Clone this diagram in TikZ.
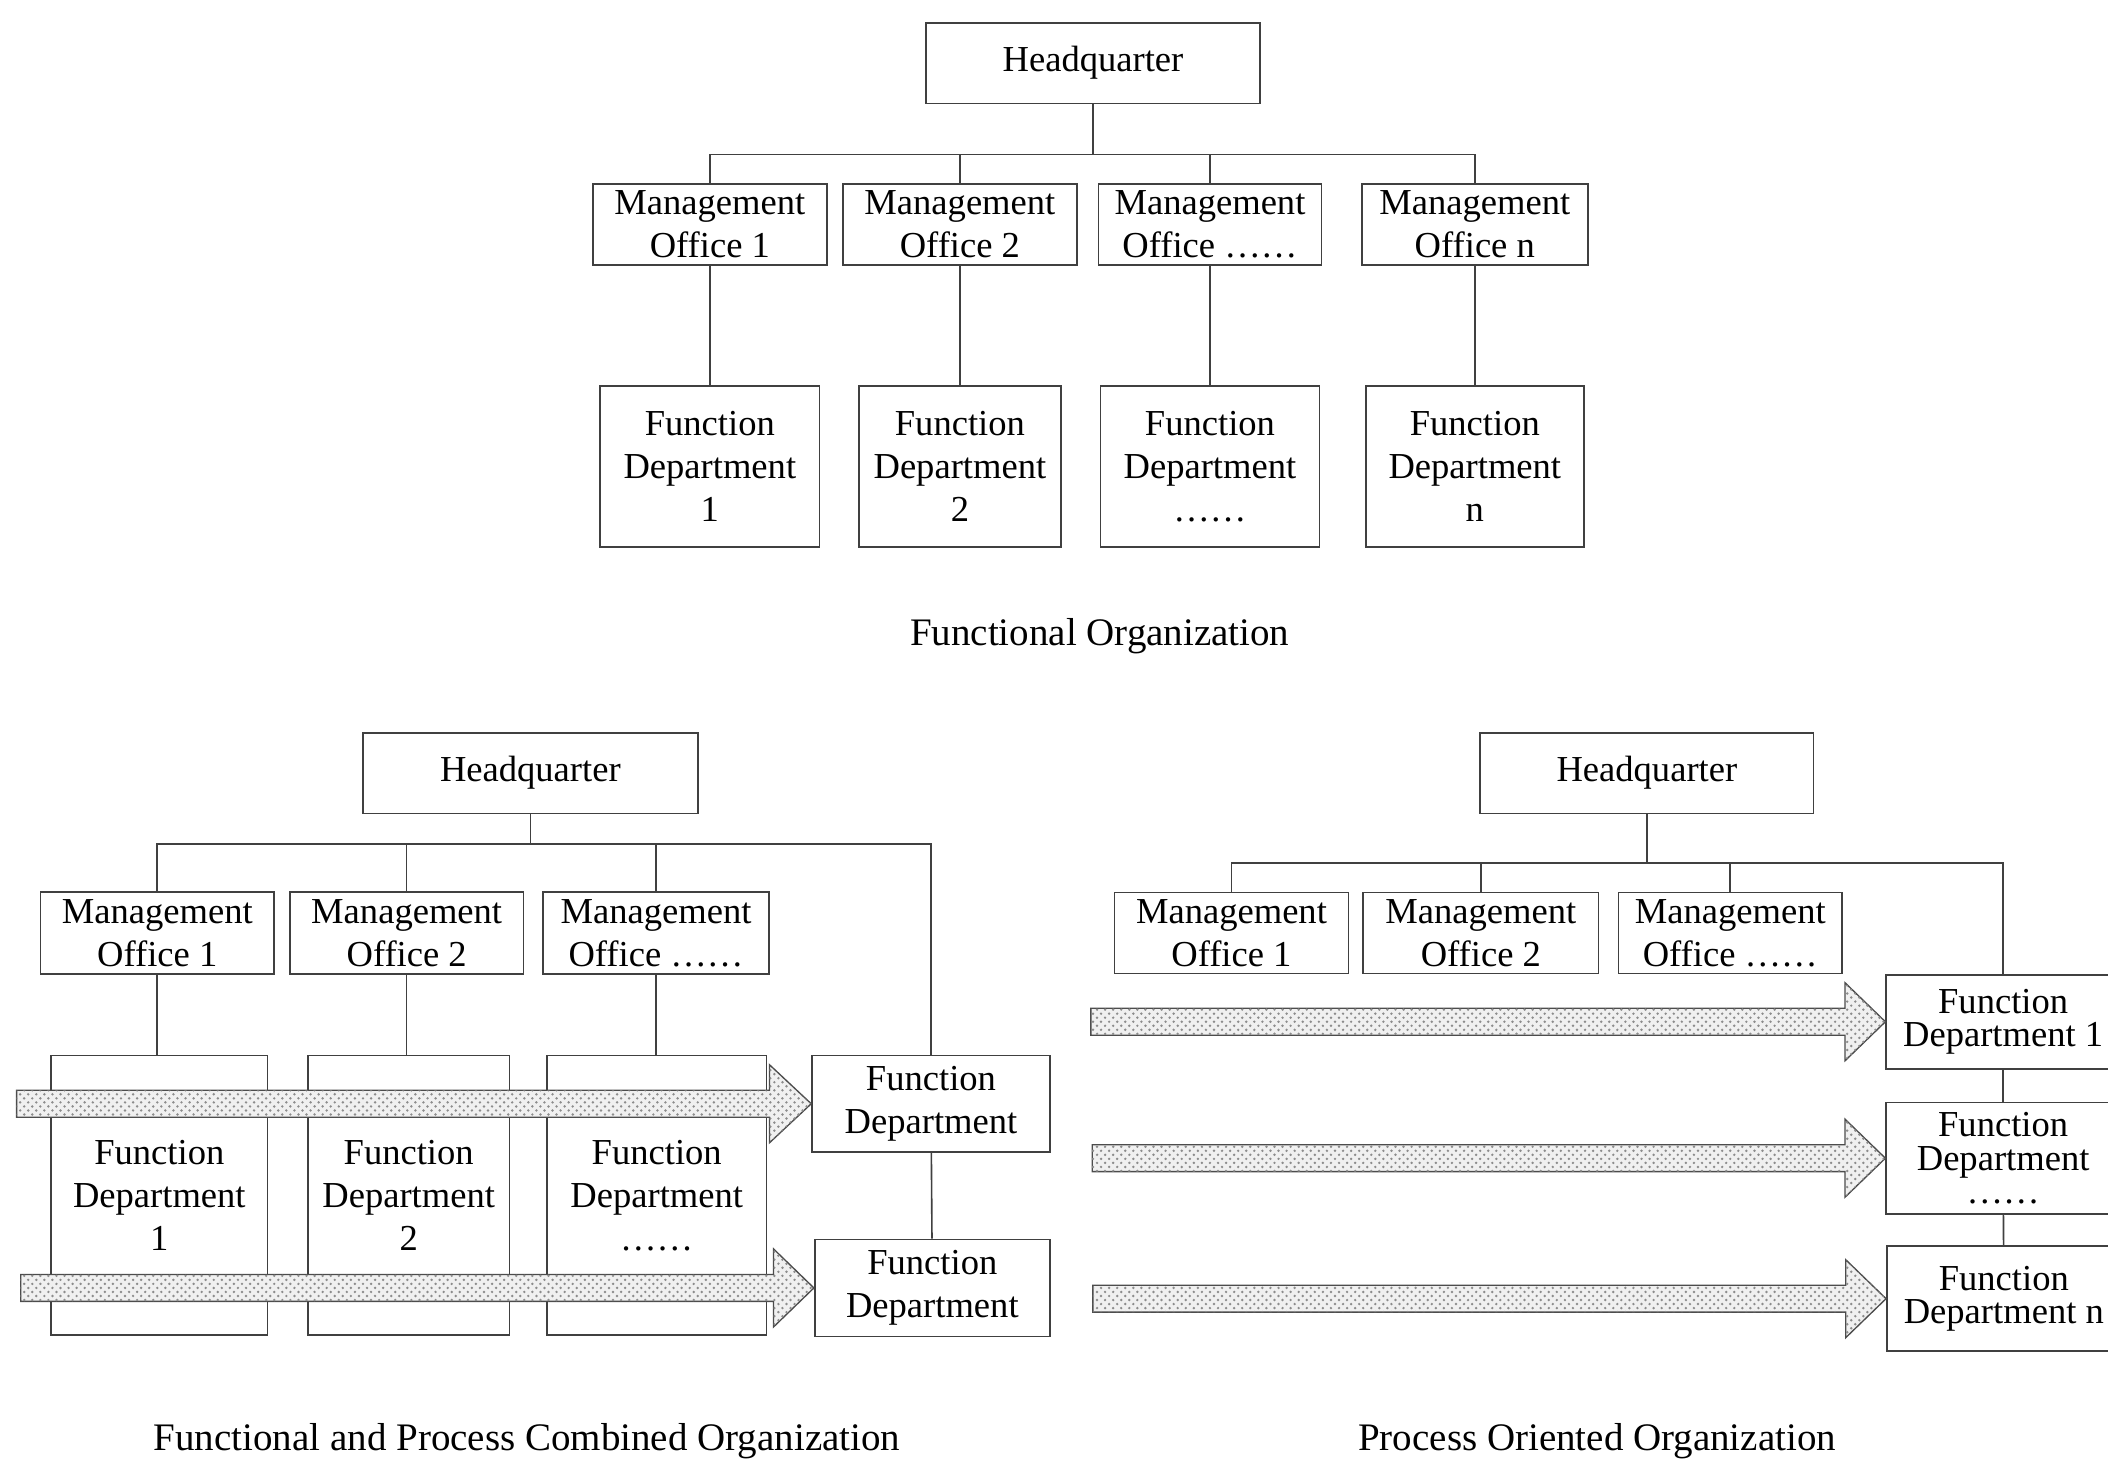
\documentclass[tikz,border=0pt]{standalone}
\usepackage{fontspec}
\setmainfont{Liberation Serif}
\usetikzlibrary{positioning,patterns}

\begin{document}
\begin{tikzpicture}[x=0.5pt,y=0.5pt]
                \tikzstyle{every node}+=[inner sep=0pt]
                \tikzstyle{unit}=[draw=black!75, line width=0.6pt, align=center, font=\fontsize{13.6}{16}\selectfont]
                \tikzstyle{tightunit}=[unit, font=\fontsize{13.6}{12.5}\selectfont]
                \tikzstyle{link}=[draw=black!75, line width=0.6pt]
                \tikzstyle{flow}=[draw=black!70, line width=0.5pt, fill=gray!12, postaction={pattern=crosshatch dots, pattern color=gray!90}]
                \tikzstyle{caption}=[font=\fontsize{14.5}{16}\selectfont]
                \useasboundingbox (0,0) rectangle (1568,-1087);
                % functional organization
                \node [unit, minimum width=124pt, minimum height=30pt] (hqA) at (813,-47) {Headquarter};
                \node [unit, minimum width=87pt, minimum height=30pt] (moA1) at (528,-167) {Management\\Office 1};
                \node [unit, minimum width=87pt, minimum height=30pt] (moA2) at (714,-167) {Management\\Office 2};
                \node [unit, minimum width=83pt, minimum height=30pt] (moA3) at (900,-167) {Management\\Office ……};
                \node [unit, minimum width=84pt, minimum height=30pt] (moA4) at (1097,-167) {Management\\Office n};
                \node [unit, minimum width=81.5pt, minimum height=60pt] (fdA1) at (528,-347) {Function\\Department\\1};
                \node [unit, minimum width=75pt, minimum height=60pt] (fdA2) at (714,-347) {Function\\Department\\2};
                \node [unit, minimum width=81.5pt, minimum height=60pt] (fdA3) at (900,-347) {Function\\Department\\……};
                \node [unit, minimum width=81pt, minimum height=60pt] (fdA4) at (1097,-347) {Function\\Department\\n};
                \coordinate (busA) at (813,-115);
                \draw [link] (hqA) -- (busA);
                \draw [link] (moA1.north) |- (busA) -| (moA4.north);
                \draw [link] (moA2) -- (moA2 |- busA);
                \draw [link] (moA3) -- (moA3 |- busA);
                \draw [link] (moA1) -- (fdA1);
                \draw [link] (moA2) -- (fdA2);
                \draw [link] (moA3) -- (fdA3);
                \draw [link] (moA4) -- (fdA4);
                \node [caption] (capA) at (818,-473) {Functional Organization};
                % functional and process combined organization
                \node [unit, minimum width=124.5pt, minimum height=30pt] (hqB) at (394.5,-575) {Headquarter};
                \node [unit, minimum width=87pt, minimum height=30.5pt] (moB1) at (117,-694) {Management\\Office 1};
                \node [unit, minimum width=87pt, minimum height=30.5pt] (moB2) at (302.5,-694) {Management\\Office 2};
                \node [unit, minimum width=84pt, minimum height=30.5pt] (moB3) at (488,-694) {Management\\Office ……};
                \node [unit, minimum width=80.5pt, minimum height=104pt] (fdB1) at (118.5,-889) {Function\\Department\\1};
                \node [unit, minimum width=75pt, minimum height=104pt] (fdB2) at (304,-889) {Function\\Department\\2};
                \node [unit, minimum width=81.5pt, minimum height=104pt] (fdB3) at (488.5,-889) {Function\\Department\\……};
                \node [unit, minimum width=88.5pt, minimum height=36pt] (fdB4) at (692.5,-821) {Function\\Department};
                \node [unit, minimum width=87.5pt, minimum height=36pt] (fdB5) at (693.5,-958) {Function\\Department};
                \coordinate (busB) at (394.5,-628);
                \draw [link] (hqB) -- (busB);
                \draw [link] (moB1.north) |- (busB) -| (fdB4.north);
                \draw [link] (moB2) -- (moB2 |- busB);
                \draw [link] (moB3) -- (moB3 |- busB);
                \draw [link] (moB1.south) -- (moB1.south |- fdB1.north);
                \draw [link] (moB2.south) -- (moB2.south |- fdB2.north);
                \draw [link] (moB3.south) -- (moB3.south |- fdB3.north);
                \draw [link] (fdB4) -- (fdB5);
                \draw [flow] (fdB4.west) -- ++(-31,29) -- ++(0,-19) -- ++(-560,0) -- ++(0,-20) -- ++(560,0) -- ++(0,-19) -- cycle;
                \draw [flow] (fdB5.west) -- ++(-30,29) -- ++(0,-19) -- ++(-560,0) -- ++(0,-20) -- ++(560,0) -- ++(0,-19) -- cycle;
                \node [caption] (capB) at (392,-1072) {Functional and Process Combined Organization};
                % process oriented organization
                \node [unit, minimum width=124pt, minimum height=30pt] (hqC) at (1225,-575) {Headquarter};
                \node [unit, minimum width=87pt, minimum height=30pt] (moC1) at (916,-694) {Management\\Office 1};
                \node [unit, minimum width=87.5pt, minimum height=30pt] (moC2) at (1101.5,-694) {Management\\Office 2};
                \node [unit, minimum width=83pt, minimum height=30pt] (moC3) at (1287,-694) {Management\\Office ……};
                \node [tightunit, minimum width=87pt, minimum height=35pt] (fdC1) at (1490,-760) {Function\\Department 1};
                \node [tightunit, minimum width=87pt, minimum height=41.5pt] (fdC2) at (1490,-861.5) {Function\\Department\\……};
                \node [tightunit, minimum width=87pt, minimum height=39pt] (fdC3) at (1490.5,-966) {Function\\Department n};
                \coordinate (busC) at (1225,-642);
                \draw [link] (hqC) -- (busC);
                \draw [link] (moC1.north) |- (busC) -| (fdC1.north);
                \draw [link] (moC2) -- (moC2 |- busC);
                \draw [link] (moC3) -- (moC3 |- busC);
                \draw [link] (fdC1) -- (fdC2);
                \draw [link] (fdC2) -- (fdC3);
                \draw [flow] (fdC1.west) -- ++(-30,29) -- ++(0,-19) -- ++(-561,0) -- ++(0,-20) -- ++(561,0) -- ++(0,-19) -- cycle;
                \draw [flow] (fdC2.west) -- ++(-30,29) -- ++(0,-19) -- ++(-560,0) -- ++(0,-20) -- ++(560,0) -- ++(0,-19) -- cycle;
                \draw [flow] (fdC3.west) -- ++(-30,29) -- ++(0,-19) -- ++(-560,0) -- ++(0,-20) -- ++(560,0) -- ++(0,-19) -- cycle;
                \node [caption] (capC) at (1188,-1072) {Process Oriented Organization};
            \end{tikzpicture}
\end{document}
